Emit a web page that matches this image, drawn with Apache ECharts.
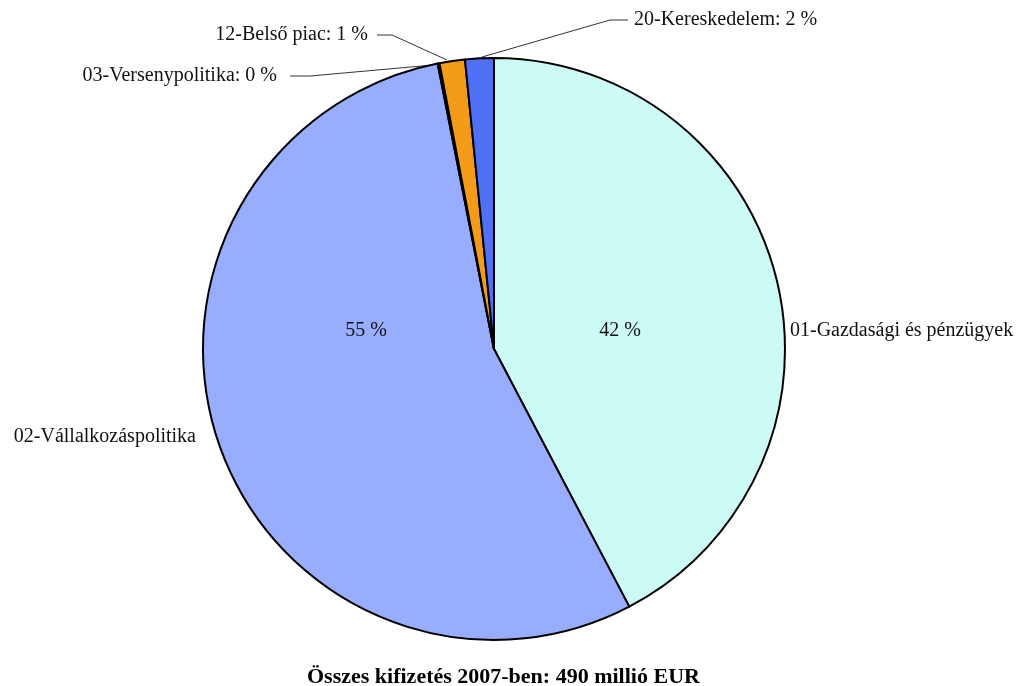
<!DOCTYPE html>
<html>
<head>
<meta charset="utf-8">
<script src="https://cdn.jsdelivr.net/npm/echarts@6/dist/echarts.min.js"></script>
<style>
  html, body { margin: 0; padding: 0; background: #ffffff; }
  #chart { width: 1022px; height: 686px; }
</style>
</head>
<body>
<div id="chart"></div>
<script>
// Kifizetések szakpolitikai területenként, 2007 (millió EUR)
const categories = [
  '01-Gazdasági és pénzügyek',
  '02-Vállalkozáspolitika',
  '03-Versenypolitika',
  '12-Belső piac',
  '20-Kereskedelem'
];
const payments = [207.3, 267.5, 0.5, 6.9, 7.8];
const sliceColors = ['#ccfbf6', '#99adff', '#9a9ad0', '#f59b1a', '#5071f5'];
const titleText = 'Összes kifizetés 2007-ben: 490 millió EUR';

const FONT = '"Liberation Serif", "DejaVu Serif", serif';
const CENTER = [494, 349];
const RADIUS = 291;

// Label placement: big slices carry their percent inside, the name beside the pie;
// small slices get a leader line to a label above the pie.
const insidePos = { 0: [620, 331], 1: [366, 331] };
const namePos = {
  0: { x: 790, y: 331, align: 'left' },
  1: { x: 196, y: 437, align: 'right' }
};
const smallPos = {
  2: { x: 277, y: 76, align: 'right', line: [[433, 65], [310, 76], [290, 76]] },
  3: { x: 368, y: 35, align: 'right', line: [[447, 60], [392, 35], [377, 35]] },
  4: { x: 634, y: 20, align: 'left', line: [[482, 57], [610, 20], [628, 20]] }
};

const baseData = categories.map((name, i) => ({
  name: name,
  value: payments[i],
  itemStyle: { color: sliceColors[i] }
}));

const chart = echarts.init(document.getElementById('chart'), null, { renderer: 'canvas' });

const labelText = { fontFamily: FONT, fontSize: 20, color: '#111' };

chart.setOption({
  backgroundColor: '#ffffff',
  animation: false,
  title: {
    text: titleText,
    left: 302,
    top: 661,
    textStyle: { fontFamily: FONT, fontWeight: 'bold', fontSize: 22, color: '#000' }
  },
  series: [
    {
      type: 'pie',
      center: CENTER,
      radius: RADIUS,
      startAngle: 90,
      clockwise: true,
      percentPrecision: 0,
      avoidLabelOverlap: false,
      silent: true,
      itemStyle: { borderColor: '#000', borderWidth: 2 },
      label: Object.assign({ show: true, overflow: 'none' }, labelText),
      labelLine: { show: true, lineStyle: { color: '#333', width: 1 } },
      data: baseData.map((d, i) => {
        if (i <= 1) {
          return Object.assign({}, d, {
            label: { position: 'inside', formatter: '{d} %' },
            labelLine: { show: false }
          });
        }
        return Object.assign({}, d, {
          label: { position: 'outside', formatter: '{b}: {d} %' }
        });
      }),
      labelLayout: function (p) {
        const i = p.dataIndex;
        if (insidePos[i]) {
          return { x: insidePos[i][0], y: insidePos[i][1], align: 'center', verticalAlign: 'middle' };
        }
        const s = smallPos[i];
        return { x: s.x, y: s.y, align: s.align, verticalAlign: 'middle', labelLinePoints: s.line };
      }
    },
    {
      // transparent overlay carrying the category names of the two large slices
      type: 'pie',
      center: CENTER,
      radius: RADIUS,
      startAngle: 90,
      clockwise: true,
      silent: true,
      z: 3,
      itemStyle: { color: 'rgba(0,0,0,0)', borderWidth: 0 },
      label: Object.assign({ show: true, position: 'outside', formatter: '{b}', overflow: 'none', width: 400 }, labelText),
      labelLine: { show: false },
      data: baseData.map((d, i) => ({
        name: d.name,
        value: d.value,
        itemStyle: { color: 'rgba(0,0,0,0)' },
        label: { show: i <= 1 }
      })),
      labelLayout: function (p) {
        const n = namePos[p.dataIndex];
        if (!n) return {};
        return { x: n.x, y: n.y, align: n.align, verticalAlign: 'middle' };
      }
    }
  ]
});
</script>
</body>
</html>
